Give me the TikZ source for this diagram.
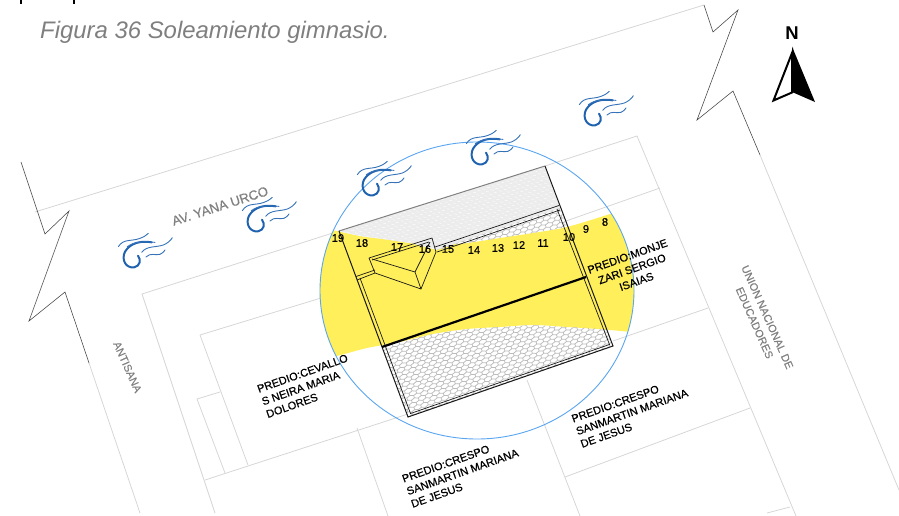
\documentclass[tikz,border=0pt]{standalone}
\usepackage{fontspec}
\setmainfont{Liberation Sans}
\newfontfamily\heavy[FakeBold=0.5]{Liberation Sans}
\newfontfamily\semi[FakeBold=0.25]{Liberation Sans}
\definecolor{sunyellow}{HTML}{FFEF5A}
\definecolor{sitegray}{HTML}{D6D6D6}
\definecolor{roofgray}{HTML}{ECECEC}
\definecolor{hexgray}{HTML}{BCBCBC}
\definecolor{circleblue}{HTML}{5AA5F0}
\definecolor{windblue}{HTML}{1F62B0}
\definecolor{labelgray}{HTML}{808080}
\definecolor{captiongray}{HTML}{7F7F7F}
\tikzset{
  site/.style={draw=sitegray,line width=.8pt},
  cut/.style={draw=black!75,line width=.55pt},
  wall/.style={draw=black!90,line width=.7pt},
  proof/.style={font=\heavy\fontsize{11}{13.4}\selectfont,text=black,rotate=19.5,inner sep=0pt},
  road/.style={font=\semi\fontsize{10.9}{14}\selectfont,text=labelgray,inner sep=0pt},
  hour/.style={font=\heavy\fontsize{11}{12}\selectfont,text=black,inner sep=0pt},
  windthick/.style={draw=windblue,line width=2pt,line cap=round},
  windthin/.style={draw=windblue!90,line width=.9pt,line cap=round},
  pics/windicon/.style={code={
    \begin{scope}[scale=1/3]
      \draw[windthick] (125,52) .. controls (95,47) and (62,52) .. (45,80)
        .. controls (33,105) and (48,130) .. (72,127)
        .. controls (90,124) and (94,105) .. (84,92);
      \draw[windthin] (25,65) .. controls (40,40) and (65,50) .. (90,40) .. controls (102,36) and (110,30) .. (115,25);
      \draw[windthin] (52,65) .. controls (75,48) and (105,50) .. (135,52);
      \draw[windthin] (95,82) .. controls (110,62) and (135,68) .. (160,60) .. controls (172,55) and (182,47) .. (187,38);
      \draw[windthin] (108,96) .. controls (122,82) and (135,92) .. (150,88) .. controls (157,85) and (162,80) .. (165,75);
    \end{scope}
  }}
}
\begin{document}
\begin{tikzpicture}[x=1pt,y=-1pt]
\useasboundingbox (0,0) rectangle (899,516);

% stray marks of the text above the crop
\draw[black,line width=1.1pt] (21,0) -- (21,4);
\draw[black,line width=1.1pt] (74,0) -- (74,4);

\node[anchor=base west,inner sep=0pt,text=captiongray,font=\fontsize{23.9}{26}\selectfont\itshape] (caption) at (40,38.5) {Figura 36 Soleamiento gimnasio.};

% site lines
\draw[site] (35,212) -- (704,5);
\draw[site] (89,363) -- (140,513);
\draw[site] (760,155) -- (899,490);
\draw[site] (215,513) -- (142,294) -- (339,231);
\draw[site] (545,166) -- (637,136) -- (796,516);
\draw[site] (200,335) -- (357,287);
\draw[site] (200,335) -- (248,465);
\draw[site] (220,392) -- (197,399) -- (225,473);
\draw[site] (205,480) -- (408,414);
\draw[site] (357,428) -- (388,516);
\draw[site] (527,380) -- (580,516);
\draw[site] (565,477) -- (750,408);
\draw[site] (613,341) -- (708,308);
\draw[site] (566,221) -- (660,188);
\draw[site] (767,513) -- (790,507);

% break lines
\draw[cut] (21,162) -- (45,234) -- (69,211) -- (29,321) -- (65,292) -- (89,363);
\draw[cut] (704,5) -- (713,32) -- (738,10) -- (697,120) -- (733,91) -- (760,155);

% sun band
\begin{scope}
  \clip (477,290.5) ellipse [x radius=157pt,y radius=148.5pt];
  \fill[sunyellow] plot[smooth] coordinates {(310,225) (332,230) (360,236) (383,239) (410,243) (435,245) (467,243) (500,238) (533,233) (567,227) (613,213) (650,200)}
    -- (660,334)
    -- plot[smooth] coordinates {(640,333) (610,330) (567,327) (533,325) (500,327) (467,329) (433,334) (400,342) (367,348) (337,356) (310,362)}
    -- cycle;
\end{scope}

% roofs
\fill[roofgray] (339,231) -- (545,166) -- (560,208) -- (437,250) -- (410,243) -- (383,239) -- (360,236) -- cycle;
\begin{scope}
  \clip (339,231) -- (545,166) -- (560,208) -- (437,250) -- (410,243) -- (383,239) -- (360,236) -- cycle;
  \begin{scope}[shift={(330,230)},rotate=19]
    \draw[white,line width=.45pt] \foreach \j [evaluate=\j as \vv using {\j*3.6}] in {0,...,24} {
      \foreach \i [evaluate=\i as \uu using {\i*5+mod(\j,2)*2.5}] in {0,...,50} {
        (\uu,\vv) -- ({\uu+2.5},{\vv+1.3})
      }
    };
  \end{scope}
\end{scope}
\begin{scope}
  \clip (382,347) -- (400,342) -- (433,334) -- (467,329) -- (500,327) -- (533,325) -- (567,327) -- (607,329) -- (613,346) -- (408,417) -- cycle
        (437,250) -- (467,243) -- (500,238) -- (533,233) -- (568,227) -- (560,208) -- cycle;
  \begin{scope}[shift={(330,230)},rotate=19]
    \draw[hexgray,line width=.75pt] \foreach \j [evaluate=\j as \vv using {\j*3.7}] in {0,...,58} {
      \foreach \i [evaluate=\i as \uu using {\i*7.2+mod(\j,2)*3.6}] in {0,...,40} {
        ({\uu-3.6},{\vv+1.2}) -- (\uu,{\vv+2.5}) -- ({\uu+3.6},{\vv+1.2}) -- ({\uu+3.6},{\vv-1.2})
      }
    };
  \end{scope}
\end{scope}

% building
\draw[gray,line width=1pt] (339,231) -- (545,166);
\draw[wall,line width=1pt] (339,231) -- (408,417) -- (613,346) -- (545,166);
\draw[wall] (360,278) -- (410.5,413.5) -- (609.5,344.5) -- (557,209);
\draw[black,line width=2.2pt] (382,347) -- (586,277);
\draw[wall] (435,247) -- (559,205.5);
\draw[wall] (437,252) -- (560,210);
% small volume
\draw[wall] (369,258) -- (432,238) -- (436,252) -- (421,289) -- (375,273) -- (369,258);
\draw[wall] (372,260) -- (429,242);
\draw[wall] (372,259) -- (415,272) -- (421,289);
\draw[wall] (415,272) -- (430,242);
\draw[wall] (356,276.5) -- (375,270);
\draw[wall] (357,280) -- (375,273);

% sun path
\draw[circleblue,line width=.9pt] (477,290.5) ellipse [x radius=157pt,y radius=148.5pt];

% hour marks
\node[hour] (h19) at (338,238) {19};
\node[hour] (h18) at (362,243) {18};
\node[hour] (h17) at (397,247) {17};
\node[hour] (h16) at (425,249) {16};
\node[hour] (h15) at (448,249) {15};
\node[hour] (h14) at (474,250) {14};
\node[hour] (h13) at (498,248) {13};
\node[hour] (h12) at (519,245) {12};
\node[hour] (h11) at (543,243) {11};
\node[hour] (h10) at (569,237) {10};
\node[hour] (h9) at (586,229) {9};
\node[hour] (h8) at (605,222) {8};

% wind
\pic at (110,225) {windicon};
\pic at (234,189) {windicon};
\pic at (349,153) {windicon};
\pic at (458,122) {windicon};
\pic at (571,83) {windicon};

% labels
\node[road,rotate=18,font=\heavy\fontsize{13.2}{14}\selectfont] (yana) at (220,206) {AV. YANA URCO};
\node[road,rotate=-66] (antisana) at (127.5,367) {ANTISANA};
\node[road,rotate=-66,align=center] (union) at (761,320) {UNION NACIONAL DE\\EDUCADORES};
\node[proof,align=center] (monje) at (632,269) {PREDIO:MONJE\\ZARI SERGIO\\ISAIAS};
\node[proof,align=left] (cevallo) at (307,386) {PREDIO:CEVALLO\\S NEIRA MARIA\\DOLORES};
\node[proof,align=left] (crespoa) at (462.5,472) {PREDIO:CRESPO\\SANMARTIN MARIANA\\DE JESUS};
\node[proof,align=left] (crespob) at (632,412) {PREDIO:CRESPO\\SANMARTIN MARIANA\\DE JESUS};

% north
\node[inner sep=0pt,font=\fontsize{18.5}{18}\selectfont\bfseries] (north) at (792,33.5) {N};
\draw[black,line width=2pt,line join=miter,fill=white] (792,53) -- (773.5,100.5) -- (792,92.5) -- cycle;
\fill[black] (792,46.5) -- (815,102) -- (792,92) -- cycle;
\end{tikzpicture}
\end{document}
